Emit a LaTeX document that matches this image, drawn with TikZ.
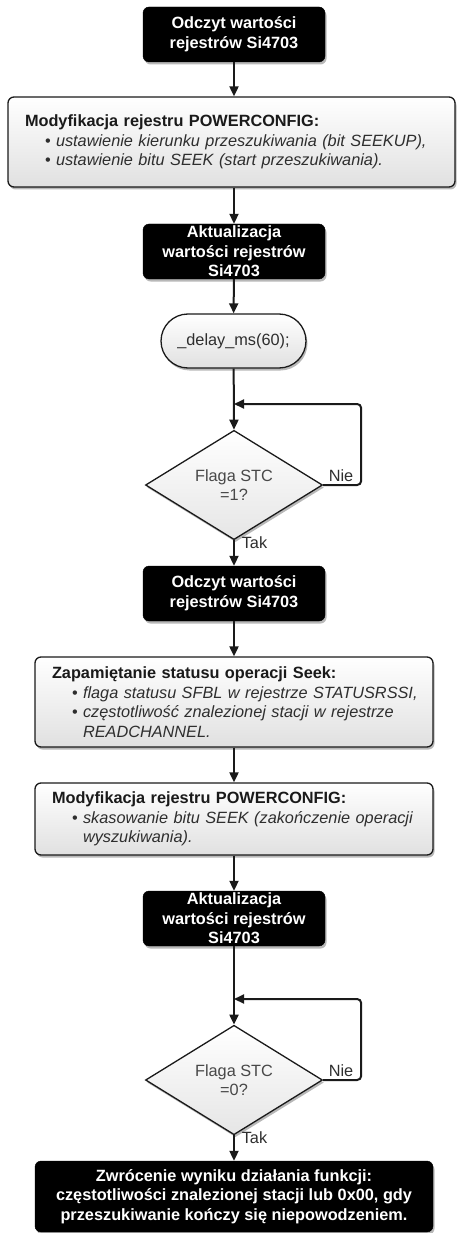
\documentclass[tikz,border=0pt]{standalone}
\usepackage{fontspec}
\setmainfont{Liberation Sans}
\usetikzlibrary{shapes.geometric,arrows.meta,shadows}
\definecolor{ink}{HTML}{1A1A1A}
\definecolor{itx}{HTML}{2E2E2E}
\definecolor{dtx}{HTML}{484848}
\newcommand\bitem[1]{\hspace*{20pt}\makebox[11pt][l]{•}\mbox{\textit{#1}}}
\newcommand\bcont[1]{\hspace*{31pt}\mbox{\textit{#1}}}
\begin{document}
\begin{tikzpicture}[x=1pt,y=-1pt,
  every node/.style={font=\fontsize{16.3}{19.6}\selectfont},
  shd/.style={drop shadow={shadow xshift=1.5pt, shadow yshift=-2.5pt, opacity=0.28, fill=black}},
  darkbox/.style={rectangle, rounded corners=6pt, fill=black, draw=black, text=white,
    font=\fontsize{16.3}{19.6}\selectfont\bfseries, align=center,
    minimum width=182pt, minimum height=55pt, inner sep=0pt, shd},
  lightbox/.style={rectangle, rounded corners=6pt, draw=ink, line width=1.3pt,
    top color=white, bottom color=black!12, align=left, text=ink,
    inner xsep=17pt, inner ysep=0pt, shd},
  stadium/.style={rectangle, rounded corners=27pt, draw=ink, line width=1.3pt,
    top color=white, bottom color=black!12, text=itx,
    minimum width=145pt, minimum height=54pt, inner sep=0pt, shd},
  decision/.style={diamond, draw=ink, line width=1.3pt, top color=white, bottom color=black!10,
    text=dtx, align=center, minimum width=177pt, minimum height=86pt, inner sep=0pt, shd},
  arr/.style={-{Triangle[length=10pt,width=9pt]}, line width=2pt, draw=ink},
  lbl/.style={text=itx, inner sep=0pt}
]
\useasboundingbox (0,0) rectangle (456,1233);

\node[darkbox] (b1) at (234,34.5) {Odczyt wartości\\rejestrów Si4703};

\node[lightbox, minimum width=447pt, minimum height=90pt, text width=413pt] (b2) at (231.5,142)
 {\textbf{Modyfikacja rejestru POWERCONFIG:}\\
  \color{itx}\bitem{ustawienie kierunku przeszukiwania (bit SEEKUP),}\\
  \bitem{ustawienie bitu SEEK (start przeszukiwania).}};

\node[darkbox] (b3) at (234,251.5) {Aktualizacja\\wartości rejestrów\\Si4703};

\node[stadium] (st) at (233.5,341) {\_delay\_ms(60);};

\coordinate (j1) at (234,404);
\node[decision] (d1) at (234,485) {Flaga STC\\=1?};
\node[lbl] (nie1) at (341,476) {Nie};
\node[lbl] (tak1) at (254.5,543) {Tak};

\node[darkbox] (b4) at (234,593.5) {Odczyt wartości\\rejestrów Si4703};

\node[lightbox, minimum width=398pt, minimum height=90pt, text width=364pt] (b5) at (234,702)
 {\textbf{Zapamiętanie statusu operacji Seek:}\\
  \color{itx}\bitem{flaga statusu SFBL w rejestrze STATUSRSSI,}\\
  \bitem{częstotliwość znalezionej stacji w rejestrze}\\
  \bcont{READCHANNEL.}};

\node[lightbox, minimum width=398pt, minimum height=72pt, text width=364pt] (b6) at (234,819)
 {\textbf{Modyfikacja rejestru POWERCONFIG:}\\
  \color{itx}\bitem{skasowanie bitu SEEK (zakończenie operacji}\\
  \bcont{wyszukiwania).}};

\node[darkbox] (b7) at (234,918.5) {Aktualizacja\\wartości rejestrów\\Si4703};

\coordinate (j2) at (234,999);
\node[decision] (d2) at (234,1080) {Flaga STC\\=0?};
\node[lbl] (nie2) at (341,1071) {Nie};
\node[lbl] (tak2) at (254.5,1138) {Tak};

\node[darkbox, minimum width=398pt, minimum height=71pt] (b8) at (234,1196.5)
 {Zwrócenie wyniku działania funkcji:\\częstotliwości znalezionej stacji lub 0x00, gdy\\przeszukiwanie kończy się niepowodzeniem.};

\draw[arr] (b1) -- (b2.north -| b1);
\draw[arr] (b2.south -| b1) -- (b3);
\draw[arr] (b3) -- (st);
\draw[arr] (st) -- (d1.north);
\draw[arr, rounded corners=4pt] (d1.east) -- ++(38,0) |- (j1);
\draw[arr] (d1.south) -- (b4);
\draw[arr] (b4) -- (b5);
\draw[arr] (b5) -- (b6);
\draw[arr] (b6) -- (b7);
\draw[arr] (b7) -- (d2.north);
\draw[arr, rounded corners=4pt] (d2.east) -- ++(38,0) |- (j2);
\draw[arr] (d2.south) -- (b8);
\end{tikzpicture}
\end{document}
